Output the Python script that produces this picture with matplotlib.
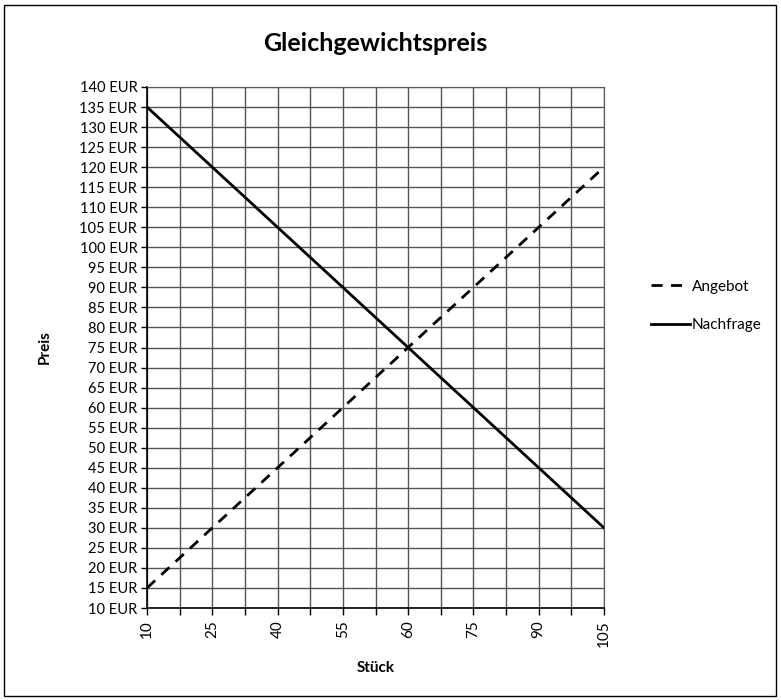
import matplotlib.pyplot as plt
from matplotlib.patches import Rectangle
import numpy as np

plt.rcParams['font.family'] = ['Lato', 'DejaVu Sans']

# Kategorien (Excel-Liniendiagramm, nur jede zweite beschriftet)
stueck = ["10", "17,5", "25", "32,5", "40", "47,5", "55", "57,5",
          "60", "67,5", "75", "82,5", "90", "97,5", "105"]
angebot = [15, 22.5, 30, 37.5, 45, 52.5, 60, 67.5,
           75, 82.5, 90, 97.5, 105, 112.5, 120]
nachfrage = [135, 127.5, 120, 112.5, 105, 97.5, 90, 82.5,
             75, 67.5, 60, 52.5, 45, 37.5, 30]
preis_ticks = list(range(10, 145, 5))

fig = plt.figure(figsize=(7.81, 7.0), dpi=100)
ax = fig.add_axes([147/781, 1 - 608/700, (604 - 147)/781, (608 - 87)/700])

x = np.arange(len(stueck))
ax.plot(x, angebot, color='black', lw=2, linestyle=(0, (4, 3)), label='Angebot')
ax.plot(x, nachfrage, color='black', lw=2, label='Nachfrage')

ax.set_xlim(0, len(stueck) - 1)
ax.set_ylim(10, 140)
ax.set_xticks(x)
ax.set_xticklabels([s if i % 2 == 0 else "" for i, s in enumerate(stueck)],
                   rotation=90, fontsize=11)
ax.set_yticks(preis_ticks)
ax.set_yticklabels([f"{p} EUR" for p in preis_ticks], fontsize=10.5)
ax.tick_params(axis='x', length=5, width=1, color='black', pad=4)
ax.tick_params(axis='y', length=4, width=1, color='black', pad=3)
ax.grid(True, color='#555555', lw=1)
ax.set_axisbelow(True)
for s in ['top', 'right']:
    ax.spines[s].set_color('#555555')
for s in ['left', 'bottom']:
    ax.spines[s].set_color('black')
    ax.spines[s].set_linewidth(1.2)

ax.set_title('Gleichgewichtspreis', fontsize=18, fontweight='bold', pad=26)
ax.set_xlabel('Stück', fontsize=11, fontweight='bold', labelpad=10)
ax.set_ylabel('Preis', fontsize=11, fontweight='bold', labelpad=20)

fig.legend(loc='center left', bbox_to_anchor=(637/781, 1 - 306/700),
           frameon=False, fontsize=11, handlelength=2.6, handletextpad=0.1,
           labelspacing=1.6)

fig.patches.append(Rectangle((4/781, 4/700), 772/781, 691/700, transform=fig.transFigure,
                             fill=False, edgecolor='black', lw=1))

fig.savefig('out.png', dpi=100)
